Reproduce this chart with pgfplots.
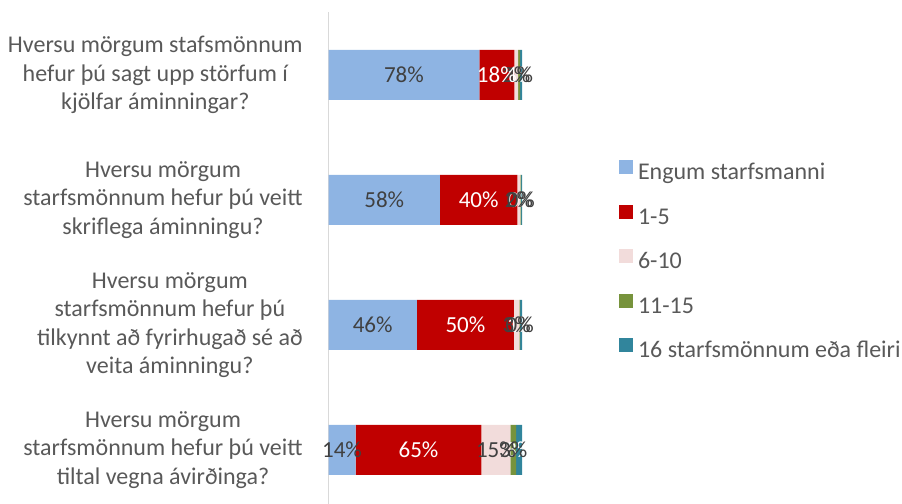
\documentclass[border=0pt]{standalone}
\usepackage{fontspec}
\setmainfont{Carlito}
\usepackage{pgfplots}
\pgfplotsset{compat=1.18}
\definecolor{cblue}{HTML}{8EB4E3}
\definecolor{cred}{HTML}{C00000}
\definecolor{cpink}{HTML}{F2DCDB}
\definecolor{cgreen}{HTML}{77933C}
\definecolor{cteal}{HTML}{31859C}
\definecolor{tgrey}{HTML}{595959}
\definecolor{lgrey}{HTML}{404040}
\definecolor{axgrey}{HTML}{D9D9D9}
\begin{document}
\begin{tikzpicture}
\path[use as bounding box] (0,0) rectangle (902bp,504bp);
\begin{axis}[
  at={(328.5bp,-8.5bp)}, anchor=south west,
  scale only axis, width=193.5bp, height=500bp,
  xbar stacked, bar width=50bp,
  xmin=0, xmax=100, ymin=-0.5, ymax=3.5,
  hide x axis,
  axis y line=left,
  y axis line style={-, draw=axgrey, line width=1.5bp},
  ytick={0,1,2,3},
  ytick style={draw=none},
  yticklabels={
    {Hversu mörgum\\starfsmönnum hefur þú veitt\\tiltal vegna ávirðinga?},
    {Hversu mörgum\\starfsmönnum hefur þú\\tilkynnt að fyrirhugað sé að\\veita áminningu?},
    {Hversu mörgum\\starfsmönnum hefur þú veitt\\skriflega áminningu?},
    {Hversu mörgum stafsmönnum\\hefur þú sagt upp störfum í\\kjölfar áminningar?}},
  yticklabel style={align=center, anchor=east, inner sep=0pt, xshift=-23.5bp,
    text=tgrey, font=\fontsize{24bp}{28.5bp}\selectfont},
  clip=false,
  point meta=explicit symbolic,
  nodes near coords={\pgfplotspointmeta},
  nodes near coords align=center,
  every node near coord/.append style={anchor=center, inner sep=0pt,
    font=\fontsize{23bp}{27bp}\selectfont},
  legend image code/.code={\fill[#1,draw=none] (0bp,0.5bp) rectangle (14bp,14.5bp);},
  legend cell align=left,
  legend style={at={(1.5013,0.501)}, anchor=west, draw=none, fill=none,
    inner sep=0pt, outer sep=0pt, column sep=5bp, row sep=19bp,
    nodes={inner sep=0pt, text height=16bp, text depth=6bp, text=tgrey},
    font=\fontsize{24bp}{28.5bp}\selectfont},
]
\addplot[fill=cblue, draw=none, every node near coord/.append style={text=lgrey}]
  coordinates {(14,0) [14\%] (45.7,1) [46\%] (57.6,2) [58\%] (78,3) [78\%]};
\addlegendentry{Engum starfsmanni}
\addplot[fill=cred, draw=none, every node near coord/.append style={text=white}]
  coordinates {(65,0) [65\%] (50.1,1) [50\%] (40,2) [40\%] (18,3) [18\%]};
\addlegendentry{1-5}
\addplot[fill=cpink, draw=none, every node near coord/.append style={text=lgrey}]
  coordinates {(15,0) [15\%] (2.9,1) [3\%] (1.6,2) [2\%] (2,3) [2\%]};
\addlegendentry{6-10}
\addplot[fill=cgreen, draw=none, every node near coord/.append style={text=lgrey}]
  coordinates {(3,0) [3\%] (0.3,1) [0\%] (0.4,2) [0\%] (1,3) [1\%]};
\addlegendentry{11-15}
\addplot[fill=cteal, draw=none, every node near coord/.append style={text=white}]
  coordinates {(3,0) [3\%] (1,1) [1\%] (0.4,2) [0\%] (1,3) [1\%]};
\addlegendentry{16 starfsmönnum eða fleiri}
\end{axis}
\end{tikzpicture}
\end{document}
